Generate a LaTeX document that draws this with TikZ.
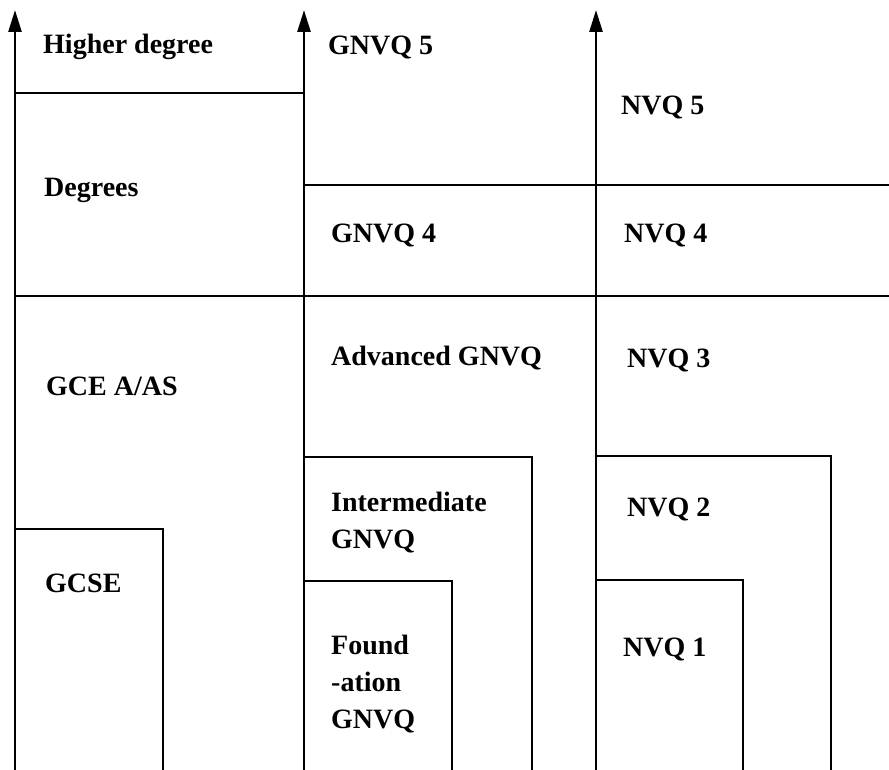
\documentclass[tikz,border=0pt]{standalone}
\usepackage{fontspec}
\setmainfont{Liberation Serif}
\usetikzlibrary{arrows.meta}
\tikzset{
  rule/.style={line width=2.6pt, line cap=rect},
  axis/.style={line width=2.6pt, -{Triangle[length=22pt,width=13pt]}},
  lbl/.style={anchor=base west, inner sep=0pt, font=\fontsize{28}{37}\selectfont\bfseries, align=left},
}
\begin{document}
\begin{tikzpicture}[x=1pt,y=-1pt]
\useasboundingbox (0,0) rectangle (889,770);
% axes
\coordinate (a1b) at (15,772); \coordinate (a1t) at (15,10);
\coordinate (a2b) at (304,772); \coordinate (a2t) at (304,10);
\coordinate (a3b) at (596,772); \coordinate (a3t) at (596,10);
\draw[axis] (a1b) -- (a1t);
\draw[axis] (a2b) -- (a2t);
\draw[axis] (a3b) -- (a3t);
% horizontal rules
\draw[rule] (15,93) -- (304,93);
\draw[rule] (304,185) -- (891,185);
\draw[rule] (15,296) -- (891,296);
% boxes
\draw[rule] (15,529) -- (163,529) -- (163,772);
\draw[rule] (304,457) -- (532,457) -- (532,772);
\draw[rule] (304,581) -- (452,581) -- (452,772);
\draw[rule] (596,456) -- (831,456) -- (831,772);
\draw[rule] (596,580) -- (743,580) -- (743,772);
% labels
\node[lbl] (hd) at (43,54) {Higher degree};
\node[lbl] (dg) at (44,197) {Degrees};
\node[lbl] (gce) at (46,395) {GCE A/AS};
\node[lbl] (gcse) at (45,592) {GCSE};
\node[lbl] (g5) at (328,55) {GNVQ 5};
\node[lbl] (g4) at (331,243) {GNVQ 4};
\node[lbl] (ga) at (331,365) {Advanced GNVQ};
\node[lbl] (gi) at (331,548) {Intermediate\\GNVQ};
\node[lbl] (gf) at (331,728) {Found\\-ation\\GNVQ};
\node[lbl] (n5) at (621,115) {NVQ 5};
\node[lbl] (n4) at (624,243) {NVQ 4};
\node[lbl] (n3) at (627,367) {NVQ 3};
\node[lbl] (n2) at (627,516) {NVQ 2};
\node[lbl] (n1) at (623,656) {NVQ 1};
\end{tikzpicture}
\end{document}
